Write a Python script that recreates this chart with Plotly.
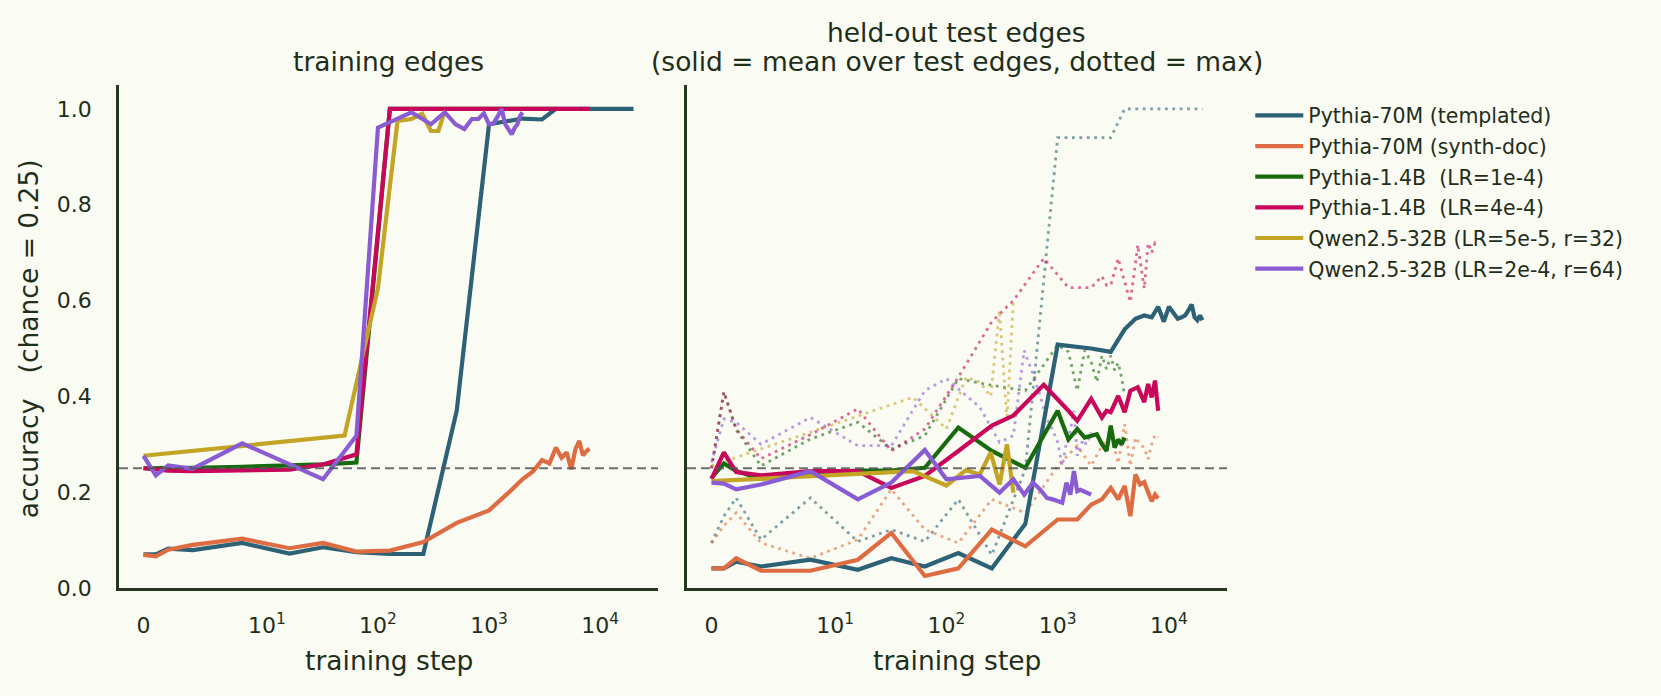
import numpy as np
import plotly.graph_objects as go

# ---------------- data ----------------
names = ["Pythia-70M (templated)", "Pythia-70M (synth-doc)", "Pythia-1.4B  (LR=1e-4)",
         "Pythia-1.4B  (LR=4e-4)", "Qwen2.5-32B (LR=5e-5, r=32)", "Qwen2.5-32B (LR=2e-4, r=64)"]
colors = ["#2D6276", "#DD6C42", "#176B0E", "#C8065A", "#C4A425", "#8A5CD3"]

teal_steps = [0, 1, 2, 4, 8, 16, 32, 64, 128, 256, 512, 1000, 2000, 3000, 4000, 5000, 6000, 7000,
              8000, 9000, 10000, 11000, 12000, 13000, 14000, 15000, 16000, 17000, 18000, 19000, 20000]
teal_train = [.07, .07, .082, .079, .094, .072, .085, .075, .071, .071, .37, .968, .98, .978,
              1, 1, 1, 1, 1, 1, 1, 1, 1, 1, 1, 1, 1, 1, 1, 1, 1]
teal_mean = [.041, .041, .055, .045, .059, .038, .062, .045, .073, .041, .134, .508, .50, .493,
             .54, .562, .569, .565, .587, .556, .587, .575, .562, .565, .569, .58, .592, .565, .559, .569, .559]
teal_max = [.094, .15, .188, .101, .188, .097, .122, .097, .185, .069, .248, .94, .94, .94,
            1, 1, 1, 1, 1, 1, 1, 1, 1, 1, 1, 1, 1, 1, 1, 1, 1]

orange_steps = [0, 1, 2, 4, 8, 16, 32, 64, 128, 256, 512, 1000, 1500, 2000, 2500, 3000, 3500,
                4000, 4500, 5000, 5500, 6000, 6500, 7000, 7500, 8000]
orange_train = [.069, .066, .08, .09, .103, .083, .094, .076, .078, .096, .136, .162, .199, .227,
                .244, .267, .26, .293, .272, .283, .248, .29, .307, .277, .285, .291]
orange_mean = [.041, .041, .062, .036, .036, .059, .115, .025, .041, .122, .087, .143, .143, .174,
               .185, .209, .185, .213, .15, .237, .216, .221, .20, .181, .195, .187]
orange_max = [.094, .13, .157, .094, .062, .101, .206, .122, .094, .185, .157, .255, .297, .255,
              .297, .32, .26, .342, .255, .314, .30, .293, .269, .30, .32, .314]

green_steps = [0, 1, 2, 4, 8, 16, 32, 64, 128, 256, 512, 1000, 1250, 1500, 1750, 2000, 2250,
               2500, 2750, 3000, 3250, 3500, 3750, 4000]
green_train = [.25, .25, .25, .251, .253, .255, .258, .262, 1, 1, 1, 1, 1, 1, 1, 1, 1,
               1, 1, 1, 1, 1, 1, 1]
green_mean = [.23, .26, .244, .228, .24, .245, .245, .251, .335, .286, .251, .37, .31, .332, .314,
              .318, .321, .30, .286, .339, .293, .31, .30, .314]
green_max = [.25, .41, .33, .255, .311, .346, .29, .318, .437, .423, .412, .507, .493, .412, .496,
             .472, .43, .485, .457, .485, .454, .47, .44, .401]

red_steps = [0, 1, 2, 4, 8, 16, 32, 64, 128, 256, 400, 750, 1250, 1500, 2000, 2500, 2750, 3000,
             3500, 4000, 4500, 5250, 6000, 6500, 7000, 7500, 8000]
red_train = [.25, .247, .245, .244, .245, .247, .258, .279, 1, 1, 1, 1, 1, 1, 1, 1, 1, 1,
             1, 1, 1, 1, 1, 1, 1, 1, 1]
red_mean = [.228, .283, .242, .235, .244, .244, .209, .234, .286, .339, .36, .424, .37, .349, .395,
            .356, .37, .367, .401, .367, .412, .419, .388, .426, .398, .433, .37]
red_max = [.25, .409, .332, .27, .32, .374, .286, .332, .44, .556, .60, .688, .627, .627, .627,
           .651, .632, .632, .688, .639, .597, .716, .625, .72, .70, .72, .713]

gold_steps = [0, 50, 100, 150, 200, 250, 300, 350, 400]
gold_train = [.276, .318, .626, .975, .979, .99, .954, .954, .996]
gold_mean = [.223, .244, .214, .246, .237, .283, .216, .30, .199]
gold_max = [.255, .398, .332, .44, .43, .40, .58, .35, .60]

purple_steps = [0, 1, 2, 4, 8, 16, 32, 64, 100, 200, 300, 400, 500, 600, 700, 800, 900, 1000,
                1100, 1200, 1300, 1400, 1500, 1600, 1700, 1800, 1900, 2000]
purple_train = [.276, .235, .256, .249, .302, .257, .227, .318, .961, .993, .968, .993, .968, .958,
                .979, .979, .991, .968, .970, .985, 1.0, .968, .955, .947, .960, .968, .985, .993]
purple_mean = [.22, .218, .206, .216, .244, .185, .22, .288, .227, .234, .199, .227, .195, .22,
               .205, .188, .185, .181, .178, .22, .195, .244, .202, .205, .202, .199, .197, .195]
purple_max = [.262, .353, .346, .30, .356, .297, .297, .412, .437, .377, .304, .318, .496, .447,
              .40, .353, .33, .304, .255, .304, .33, .37, .276, .297, .31, .30, .31, .325]

tick_steps = [0, 10, 100, 1000, 10000]
tick_text = ["0", "10<sup>1</sup>", "10<sup>2</sup>", "10<sup>3</sup>", "10<sup>4</sup>"]
y_ticks = [0.0, 0.2, 0.4, 0.6, 0.8, 1.0]
chance = 0.25

series = [
    (teal_steps, teal_train, teal_mean, teal_max),
    (orange_steps, orange_train, orange_mean, orange_max),
    (green_steps, green_train, green_mean, green_max),
    (red_steps, red_train, red_mean, red_max),
    (gold_steps, gold_train, gold_mean, gold_max),
    (purple_steps, purple_train, purple_mean, purple_max),
]

# symlog scale (linthresh=10, linscale=1, base 10), as matplotlib
LINTHRESH = 10.0
LINADJ = 1.0 / (1.0 - 1.0 / 10.0)


def symlog(s):
    s = np.asarray(s, dtype=float)
    out = np.empty_like(s)
    inside = s <= LINTHRESH
    out[inside] = s[inside] / LINTHRESH * LINADJ
    out[~inside] = LINADJ + np.log10(s[~inside] / LINTHRESH)
    return out


def hex_rgba(h, a):
    h = h.lstrip("#")
    return "rgba(%d,%d,%d,%.2f)" % (int(h[0:2], 16), int(h[2:4], 16), int(h[4:6], 16), a)


BG = "#FAFBF2"
TXT = "#1F2E1A"
SPINE = "#26361F"
FONT = "DejaVu Sans"

fig = go.Figure()

for (steps, tr, mn, mx), name, col in zip(series, names, colors):
    xs = symlog(steps)
    fig.add_trace(go.Scatter(x=xs, y=tr, mode="lines", name=name, legendgroup=name,
                             line=dict(color=col, width=4.2), xaxis="x", yaxis="y"))
for (steps, tr, mn, mx), name, col in zip(series, names, colors):
    xs = symlog(steps)
    fig.add_trace(go.Scatter(x=xs, y=mx, mode="lines", showlegend=False, legendgroup=name,
                             line=dict(color=hex_rgba(col, 0.6), width=2.8, dash="2.8px,4.6px"),
                             xaxis="x2", yaxis="y2"))
for (steps, tr, mn, mx), name, col in zip(series, names, colors):
    xs = symlog(steps)
    fig.add_trace(go.Scatter(x=xs, y=mn, mode="lines", showlegend=False, legendgroup=name,
                             line=dict(color=col, width=4.2), xaxis="x2", yaxis="y2"))

xr = [-0.2206, 4.633]
tickv = symlog(tick_steps)
xcommon = dict(range=xr, showgrid=False, zeroline=False, showline=True, linecolor=SPINE,
               linewidth=2.5, ticks="", tickvals=tickv, ticktext=tick_text,
               tickfont=dict(size=22, color=TXT, family=FONT), ticklabelstandoff=16)
ycommon = dict(range=[0, 1.05], showgrid=False, zeroline=False, showline=True, linecolor=SPINE,
               linewidth=2.5, ticks="", tickvals=y_ticks,
               tickfont=dict(size=22, color=TXT, family=FONT))

fig.update_layout(
    width=1661, height=696,
    margin=dict(l=119, r=434, t=85, b=108),
    paper_bgcolor=BG, plot_bgcolor=BG,
    font=dict(family=FONT, color=TXT),
    xaxis=dict(domain=[0, 0.4865], anchor="y", **xcommon),
    xaxis2=dict(domain=[0.5126, 1.0], anchor="y2", **xcommon),
    yaxis=dict(anchor="x", ticktext=["0.0", "0.2", "0.4", "0.6", "0.8", "1.0"],
               ticklabelstandoff=20, **ycommon),
    yaxis2=dict(anchor="x2", showticklabels=False, **ycommon),
    legend=dict(x=1.021, y=0.979, xanchor="left", yanchor="top", bgcolor="rgba(0,0,0,0)",
                font=dict(size=20.5, color=TXT, family=FONT), tracegroupgap=1, itemwidth=48),
    showlegend=True,
)

for xref in ["x", "x2"]:
    fig.add_shape(type="line", xref=xref + " domain", yref="y" if xref == "x" else "y2",
                  x0=0, x1=1, y0=chance, y1=chance,
                  line=dict(color="rgba(85,85,85,0.85)", width=2, dash="9px,5px"))

ann = dict(xref="paper", yref="paper", showarrow=False, xanchor="center",
           font=dict(size=26.5, color=TXT, family=FONT))
fig.add_annotation(text="training edges", x=0.24325, y=1.0477, yanchor="middle", **ann)
fig.add_annotation(text="held-out test edges", x=0.7563, y=1.1034, yanchor="middle", **ann)
fig.add_annotation(text="(solid = mean over test edges, dotted = max)", x=0.7563, y=1.0477,
                   yanchor="middle", **ann)
fig.add_annotation(text="training step", x=0.24325, y=-0.1451, yanchor="middle", **ann)
fig.add_annotation(text="training step", x=0.7563, y=-0.1451, yanchor="middle", **ann)
fig.add_annotation(text="accuracy\u00a0\u00a0\u00a0(chance = 0.25)", x=-0.0815, y=0.4960,
                   textangle=-90, yanchor="middle", **ann)

fig.write_html("out.html")
